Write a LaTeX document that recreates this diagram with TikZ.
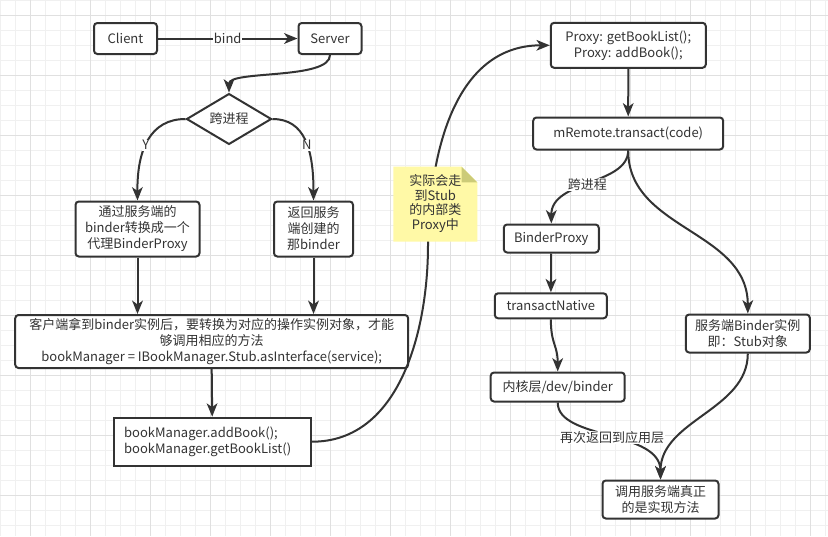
\documentclass[tikz,border=0pt]{standalone}
\usepackage{fontspec}
\setmainfont{Noto Sans CJK SC}
\usetikzlibrary{shapes.geometric,arrows.meta}
\definecolor{ink}{HTML}{333333}
\definecolor{gridminor}{HTML}{F0F0F0}
\definecolor{gridmajor}{HTML}{E0E0E0}
\definecolor{notefill}{HTML}{FFF9A6}
\definecolor{notefold}{HTML}{CCCB78}
\tikzset{
  wh/.style 2 args={minimum width=#1*0.75pt, minimum height=#2*0.75pt},
  box/.style={draw=ink, line width=1.5pt, rounded corners=2.5pt, fill=white, text=ink, align=center, inner sep=1pt},
  sqbox/.style={draw=ink, line width=1.5pt, fill=white, text=ink, align=left, inner sep=1pt},
  dia/.style={draw=ink, line width=1.5pt, shape=diamond, fill=white, text=ink, inner sep=0pt, align=center},
  edge/.style={draw=ink, line width=1.5pt, -{Stealth[length=10pt,width=8pt,inset=2.8pt]}},
  lbl/.style={fill=white, text=ink, inner sep=0.5pt},
  notetext/.style={text=ink, align=center, font=\fontsize{9.75}{11}\selectfont}
}
\begin{document}
\begin{tikzpicture}[x=0.75pt,y=-0.75pt,font=\fontsize{9.75}{12}\selectfont]
\useasboundingbox (0,0) rectangle (828,536);
\fill[white] (0,0) rectangle (828,536);
% grid
\foreach \i in {0,...,55} {\draw[gridminor, line width=0.75pt] ({0.67+15*\i},0) -- ({0.67+15*\i},536);}
\foreach \j in {0,...,35} {\draw[gridminor, line width=0.75pt] (0,{15*\j}) -- (828,{15*\j});}
\foreach \i in {0,...,13} {\draw[gridmajor, line width=0.75pt] ({30.67+60*\i},0) -- ({30.67+60*\i},536);}
\foreach \j in {0,...,8} {\draw[gridmajor, line width=0.75pt] (0,{15+60*\j}) -- (828,{15+60*\j});}

% nodes
\node[box, wh={63}{31}] (client) at (125.5,38.5) {Client};
\node[box, wh={63}{31}] (server) at (330,38.5) {Server};
\node[dia, wh={85}{39}] (cross) at (229,119) {跨进程};
\node[box, wh={124}{55}] (ybox) at (137.5,229) {通过服务端的\\binder转换成一个\\代理BinderProxy};
\node[box, wh={79}{55}] (nbox) at (313.5,229) {返回服务\\端创建的\\那binder};
\node[box, wh={393}{53}] (big) at (211.7,341.5) {客户端拿到binder实例后，要转换为对应的操作实例对象，才能\\够调用相应的方法\\bookManager = IBookManager.Stub.asInterface(service);};
\node[sqbox, wh={197}{48}, text width=132pt] (bm) at (212.2,441.7) {bookManager.addBook();\\bookManager.getBookList()};
\node[box, wh={155}{45}] (proxy) at (628.3,45.3) {Proxy: getBookList();\\Proxy: addBook();};
\node[box, wh={190}{32}] (mremote) at (628.2,133.5) {mRemote.transact(code)};
\node[box, wh={95}{28}] (bproxy) at (551.3,238.5) {BinderProxy};
\node[box, wh={112}{25}] (tnative) at (550.8,305.8) {transactNative};
\node[box, wh={134}{29}] (kernel) at (557.7,387) {内核层/dev/binder};
\node[box, wh={124}{38}] (stub) at (747.8,333.5) {服务端Binder实例\\即：Stub对象};
\node[box, wh={116}{38}] (call) at (660.5,499.5) {调用服务端真正\\的是实现方法};

% edges
\draw[edge] (client) -- node[lbl]{bind} (server);
\draw[edge] (server.south) .. controls (330,80) and (229,70) .. (cross.north);
\draw[edge] (cross.west) .. controls (150,119) and (137,150) .. node[lbl, pos=0.55]{Y} (ybox.north);
\draw[edge] (cross.east) .. controls (305,119) and (313.5,150) .. node[lbl, pos=0.55]{N} (nbox.north);
\draw[edge] (ybox.south) -- (ybox.south |- big.north);
\draw[edge] (nbox.south) -- (nbox.south |- big.north);
\draw[edge] (big.south) -- (bm.north);
\draw[edge] (bm.east) .. controls (400,442) and (428,330) .. (428,245) .. controls (430,140) and (460,45.3) .. (proxy.west);
\draw[edge] (proxy) -- (mremote);
\draw[edge] (mremote.south) .. controls (628,185) and (551.3,180) .. node[lbl, pos=0.52]{跨进程} (bproxy.north);
\draw[edge] (mremote.south) .. controls (628,230) and (747.8,230) .. (stub.north);
\draw[edge] (bproxy) -- (tnative);
\draw[edge] (tnative.south) .. controls (551,345) and (557.7,345) .. (kernel.north);
\draw[edge] (kernel.south) .. controls (557.7,440) and (660.5,430) .. node[lbl, pos=0.52]{再次返回到应用层} (call.north);
\draw[edge] (stub.south) .. controls (747.8,410) and (660.5,420) .. (call.north);

% note (drawn above the curve)
\fill[notefill] (393.3,166.7) -- (461.6,166.7) -- (477.3,182.4) -- (477.3,241.7) -- (393.3,241.7) -- cycle;
\fill[notefold] (461.6,166.7) -- (461.6,182.4) -- (477.3,182.4) -- cycle;
\node[notetext] (note) at (435.3,203.5) {实际会走\\到Stub\\的内部类\\Proxy中};
\end{tikzpicture}
\end{document}
